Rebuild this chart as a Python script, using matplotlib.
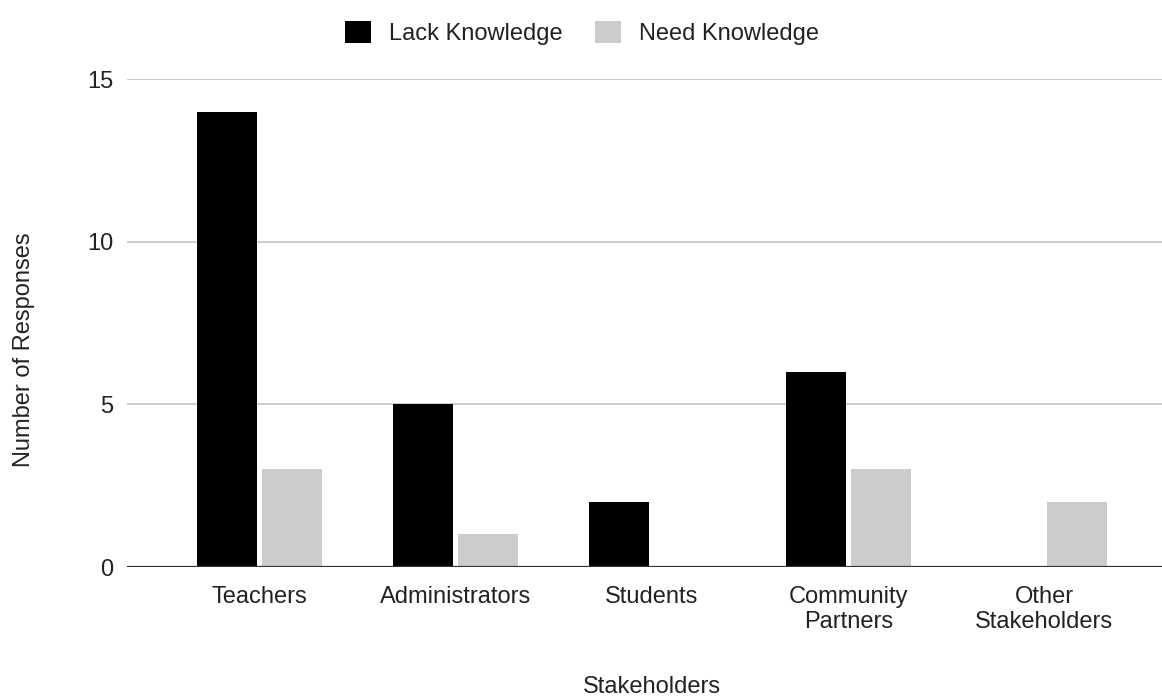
import numpy as np
import matplotlib
matplotlib.use('Agg')
import matplotlib.pyplot as plt
from matplotlib.patches import Patch

categories = ['Teachers', 'Administrators', 'Students', 'Community\nPartners', 'Other\nStakeholders']
lack_knowledge = [14, 5, 2, 6, 0]
need_knowledge = [3, 1, 0, 3, 2]
series_names = ['Lack Knowledge', 'Need Knowledge']
y_ticks = [0, 5, 10, 15]

plt.rcParams['font.family'] = ['Liberation Sans', 'DejaVu Sans']
text_color = '#222222'

fig = plt.figure(figsize=(11.62, 7), dpi=100)
ax = fig.add_axes([127 / 1162, 133 / 700, 1035 / 1162, 488 / 700])

x = np.arange(len(categories))
w = 0.306
ax.bar(x - 0.1656, lack_knowledge, width=w, color='#000000', zorder=3)
ax.bar(x + 0.1656, need_knowledge, width=w, color='#cccccc', zorder=3)

ax.set_xlim(-0.675, 4.599)
ax.set_ylim(0, 15)
ax.set_yticks(y_ticks)
ax.set_xticks(x)
ax.set_xticklabels(categories, linespacing=1.15)
ax.tick_params(axis='both', length=0, labelsize=17, colors=text_color)
ax.tick_params(axis='y', pad=10)
ax.tick_params(axis='x', pad=14)
ax.grid(axis='y', color='#cccccc', linewidth=1.4, zorder=0)
ax.axhline(0, color='#333333', linewidth=1.6, zorder=4)
for s in ax.spines.values():
    s.set_visible(False)

fig.text(24 / 1162, 1 - 350 / 700, 'Number of Responses', rotation=90,
         ha='center', va='center', fontsize=17, color=text_color)
fig.text(652 / 1162, 2 / 700, 'Stakeholders', ha='center', va='bottom',
         fontsize=17, color=text_color)

handles = [Patch(facecolor='#000000'), Patch(facecolor='#cccccc')]
fig.legend(handles, series_names, loc='center', bbox_to_anchor=(582 / 1162, 1 - 33 / 700),
           ncol=2, frameon=False, fontsize=17, handlelength=1.1, handleheight=1.1,
           handletextpad=0.75, columnspacing=1.4, labelcolor=text_color)

fig.savefig('out.png', dpi=100)
